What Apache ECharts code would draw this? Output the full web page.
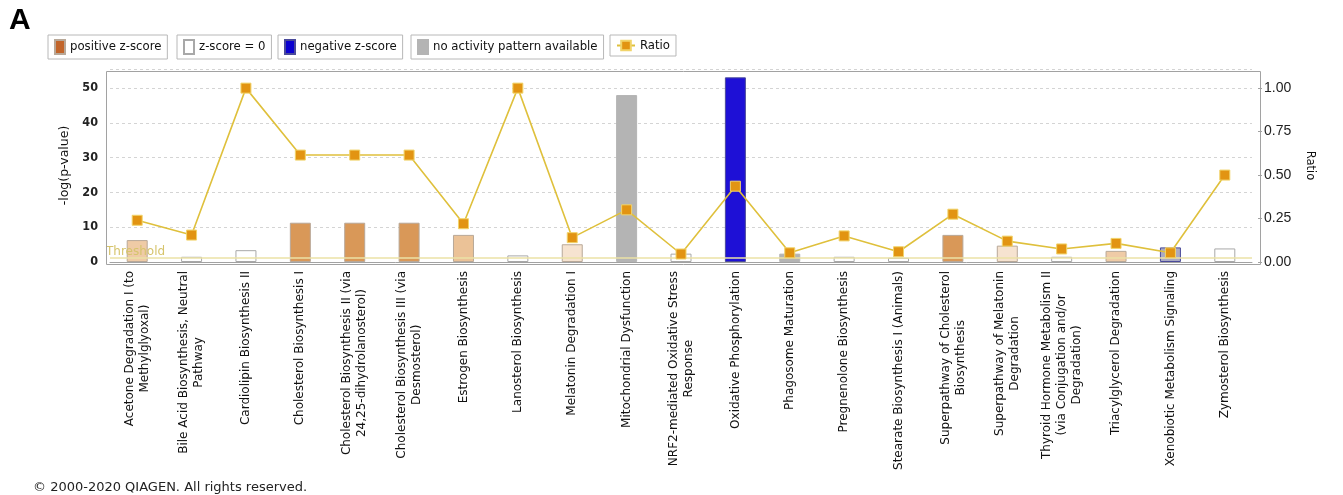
<!DOCTYPE html>
<html>
<head>
<meta charset="utf-8">
<script src="https://cdn.jsdelivr.net/npm/echarts@6/dist/echarts.min.js"></script>
<style>html,body{margin:0;padding:0;background:#fff;}#c{width:1343px;height:495px;}</style>
</head>
<body>
<div id="c"></div>
<script>
// ---- data ----
var categories = [
  'Acetone Degradation I (to\nMethylglyoxal)',
  'Bile Acid Biosynthesis, Neutral\nPathway',
  'Cardiolipin Biosynthesis II',
  'Cholesterol Biosynthesis I',
  'Cholesterol Biosynthesis II (via\n24,25-dihydrolanosterol)',
  'Cholesterol Biosynthesis III (via\nDesmosterol)',
  'Estrogen Biosynthesis',
  'Lanosterol Biosynthesis',
  'Melatonin Degradation I',
  'Mitochondrial Dysfunction',
  'NRF2-mediated Oxidative Stress\nResponse',
  'Oxidative Phosphorylation',
  'Phagosome Maturation',
  'Pregnenolone Biosynthesis',
  'Stearate Biosynthesis I (Animals)',
  'Superpathway of Cholesterol\nBiosynthesis',
  'Superpathway of Melatonin\nDegradation',
  'Thyroid Hormone Metabolism II\n(via Conjugation and/or\nDegradation)',
  'Triacylglycerol Degradation',
  'Xenobiotic Metabolism Signaling',
  'Zymosterol Biosynthesis'
];
var negLogP = [6.3, 1.5, 3.4, 11.3, 11.3, 11.3, 7.8, 1.9, 5.1, 48.0, 2.4, 53.1, 2.4, 1.5, 1.2, 7.8, 4.7, 1.5, 3.2, 4.2, 3.9];
var ratio   = [0.24, 0.155, 1.0, 0.615, 0.615, 0.615, 0.22, 1.0, 0.14, 0.30, 0.046, 0.436, 0.053, 0.15, 0.059, 0.275, 0.12, 0.075, 0.107, 0.053, 0.50];
var activity = ['pos','zero','zero','pos','pos','pos','pos','zero','pos','none','zero','neg','none','zero','zero','pos','pos','zero','pos','neg','zero'];
var strength = ['light','-','-','strong','strong','strong','medium','-','faint','-','-','strong','-','-','-','strong','faint','-','light','faint','-'];
var threshold = 1.3;
var leftTicks = {min: 0, max: 55.5, interval: 10};
var rightTicks = {min: 0, max: 1.11, interval: 0.25};

// ---- styles ----
var shadeColors = {
  pos: {strong: '#d99858', medium: '#ebc297', light: '#efcba6', faint: '#f6e3d0'},
  neg: {strong: '#1e10d6', faint: '#aaaac2'}
};
var seriesDefs = [
  {key: 'pos',  name: 'positive z-score', color: '#c2652a', border: '#b8a898'},
  {key: 'zero', name: 'z-score = 0', color: '#ffffff', border: '#a8a8a8'},
  {key: 'neg',  name: 'negative z-score', color: '#0a00d0', border: '#4a4a9a'},
  {key: 'none', name: 'no activity pattern available', color: '#b4b4b4', border: '#b4b4b4'}
];

function barData(key) {
  return negLogP.map(function (v, i) {
    if (activity[i] !== key) return '-';
    var item = {value: v};
    if (shadeColors[key] && shadeColors[key][strength[i]]) {
      item.itemStyle = {color: shadeColors[key][strength[i]]};
    }
    return item;
  });
}

var series = seriesDefs.map(function (d, idx) {
  var s = {
    name: d.name, type: 'bar', xAxisIndex: 0, yAxisIndex: 0,
    barWidth: 21, barGap: '-100%',
    itemStyle: {color: d.color, borderColor: d.border, borderWidth: 1},
    data: barData(d.key), z: 2
  };
  if (idx === 0) {
    s.markLine = {
      silent: true, symbol: 'none',
      lineStyle: {color: '#ebe2a6', width: 1.5, type: 'solid'},
      label: {show: true, position: 'insideStartTop', formatter: 'Threshold',
              color: '#d6c46c', fontSize: 12, fontFamily: 'DejaVu Sans', distance: [-4, 0]},
      data: [{yAxis: threshold}]
    };
  }
  return s;
});
series.push({
  name: 'Ratio', type: 'line', yAxisIndex: 1, data: ratio,
  symbol: 'rect', symbolSize: 10,
  lineStyle: {color: '#dfc03c', width: 1.6},
  itemStyle: {color: '#e29412', borderColor: '#f1d46a', borderWidth: 1},
  z: 5
});

var legendFont = {fontSize: 13, fontFamily: 'DejaVu Sans Condensed', color: '#111'};
function mkLegend(name, left, w) {
  return {
    data: [name], left: left, top: 35, itemWidth: w || 10, itemHeight: w ? 12 : 14,
    itemGap: 4, padding: [4, 6, 4, 6], borderColor: '#b8b8b8', borderWidth: 1,
    textStyle: legendFont, selectedMode: false, icon: w ? undefined : 'rect'
  };
}

var chart = echarts.init(document.getElementById('c'), null, {renderer: 'canvas'});
chart.setOption({
  animation: false,
  backgroundColor: '#fff',
  title: [
    {text: 'A', left: 4, top: 1, textStyle: {fontSize: 30, fontWeight: 'bold', color: '#000', fontFamily: 'Liberation Sans'}},
    {text: '\u00a9 2000-2020 QIAGEN. All rights reserved.', left: 28, top: 476,
     textStyle: {fontSize: 13, fontWeight: 'normal', color: '#222', fontFamily: 'DejaVu Sans'}}
  ],
  legend: [
    mkLegend('positive z-score', 48),
    mkLegend('z-score = 0', 177),
    mkLegend('negative z-score', 278),
    mkLegend('no activity pattern available', 411),
    mkLegend('Ratio', 610, 18)
  ],
  grid: {left: 110, right: 91, top: 69, bottom: 233, containLabel: false},
  graphic: [{
    type: 'rect', left: 104, top: 69, z: 10, silent: true,
    shape: {width: 1154, height: 193},
    style: {fill: 'none', stroke: '#a2a2a2', lineWidth: 1}
  }],
  xAxis: {
    type: 'category', data: categories, boundaryGap: true,
    axisLine: {show: true, lineStyle: {color: '#a2a2a2'}},
    axisTick: {show: false},
    axisLabel: {
      rotate: 90, margin: 9, interval: 0,
      formatter: function (v) {
        return v.split('\n').map(function (l) { return '{c|' + l + '}'; }).join('\n');
      },
      rich: {c: {align: 'center', fontSize: 12, fontFamily: 'DejaVu Sans', color: '#111', lineHeight: 15}}
    }
  },
  yAxis: [
    {
      type: 'value', min: leftTicks.min, max: leftTicks.max, interval: leftTicks.interval,
      offset: 6, position: 'left',
      name: '-log(p-value)', nameLocation: 'middle', nameRotate: 90, nameGap: 27,
      nameTextStyle: {fontSize: 12.5, fontFamily: 'DejaVu Sans', color: '#111'},
      axisLine: {show: false}, axisTick: {show: false},
      axisLabel: {showMaxLabel: false, fontSize: 12.5, fontWeight: 'bold', color: '#222', fontFamily: 'DejaVu Sans Condensed', margin: 6},
      splitLine: {show: true, lineStyle: {color: '#d4d4d4', type: [3, 3]}}
    },
    {
      type: 'value', min: rightTicks.min, max: rightTicks.max, interval: rightTicks.interval,
      offset: 6, position: 'right',
      name: 'Ratio', nameLocation: 'middle', nameRotate: -90, nameGap: 46,
      nameTextStyle: {fontSize: 11.5, fontFamily: 'DejaVu Sans', color: '#111'},
      axisLine: {show: false},
      axisTick: {show: true, length: 4, lineStyle: {color: '#a2a2a2'}},
      axisLabel: {showMaxLabel: false, fontSize: 14, color: '#222', fontFamily: 'Liberation Sans', margin: 6,
                  formatter: function (v) { return v.toFixed(2); }},
      splitLine: {show: false}
    }
  ],
  series: series
});
</script>
</body>
</html>
